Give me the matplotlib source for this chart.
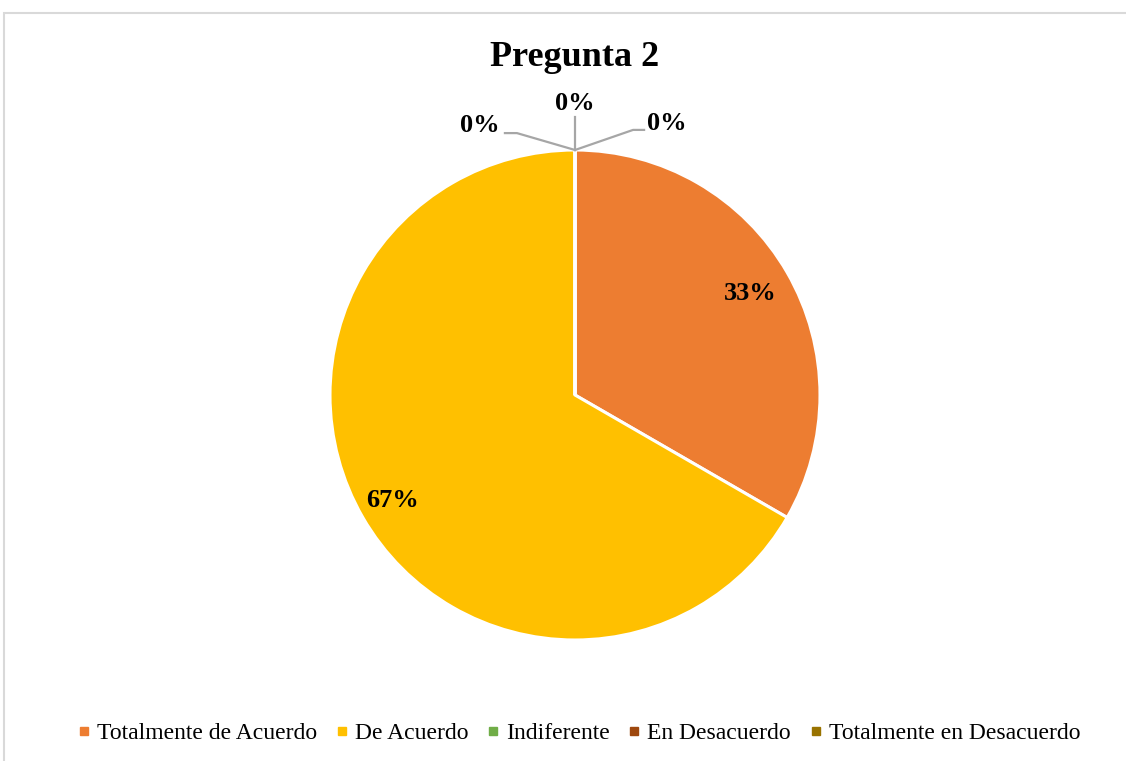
import matplotlib
matplotlib.use("Agg")
import matplotlib.pyplot as plt
import numpy as np
from matplotlib.patches import Rectangle
from matplotlib.lines import Line2D

plt.rcParams['font.family'] = ['Liberation Serif', 'DejaVu Serif']

title = "Pregunta 2"
categories = ["Totalmente de Acuerdo", "De Acuerdo", "Indiferente",
              "En Desacuerdo", "Totalmente en Desacuerdo"]
values = [1, 2, 0, 0, 0]
colors = ["#ED7D31", "#FFC000", "#70AD47", "#9E480E", "#997300"]

W, H = 1126, 761
fig = plt.figure(figsize=(W / 100, H / 100), dpi=100)
ax = fig.add_axes([0, 0, 1, 1])

R = 245.0
cx, cy = 575.0, 395.0

wedges, _ = ax.pie(values, colors=colors, startangle=90, counterclock=False,
                   radius=1.0, wedgeprops=dict(edgecolor="white", linewidth=2.2))

ax.set_aspect('auto')
ax.set_xlim(-cx / R, (W - cx) / R)
ax.set_ylim(-(H - cy) / R, cy / R)
ax.axis('off')

total = sum(values)
pcts = [v / total * 100 for v in values]
labels = ["%d%%" % round(p) for p in pcts]

# labels for non-zero slices (inside end)
lab_r = [0.825, 0.86]
for i, w in enumerate(wedges[:2]):
    ang = np.deg2rad((w.theta1 + w.theta2) / 2)
    ax.text(lab_r[i] * np.cos(ang), lab_r[i] * np.sin(ang), labels[i],
            ha='center', va='center', fontsize=19, fontweight='bold')

# zero slices: leader lines and labels above the pie
lc = "#A6A6A6"
ax.plot([0, -0.237, -0.286], [1.0, 1.069, 1.069], color=lc, lw=1.6)
ax.plot([0, 0], [1.0, 1.135], color=lc, lw=1.6)
ax.plot([0, 0.237, 0.282], [1.0, 1.082, 1.082], color=lc, lw=1.6)
ax.text(-0.388, 1.098, labels[2], ha='center', va='center', fontsize=19, fontweight='bold')
ax.text(0.0, 1.19, labels[3], ha='center', va='center', fontsize=19, fontweight='bold')
ax.text(0.375, 1.11, labels[4], ha='center', va='center', fontsize=19, fontweight='bold')

fig.text(575 / W, 1 - 57 / H, title, ha='center', va='center',
         fontsize=26, fontweight='bold')

# chart border
fig.patches.append(Rectangle((4 / W, -0.05), 1.2, (H - 13) / H + 0.05,
                             transform=fig.transFigure, fill=False,
                             edgecolor="#D9D9D9", linewidth=1.5))

handles = [Line2D([], [], marker='s', linestyle='none', markersize=6,
                  markerfacecolor=c, markeredgecolor=c) for c in colors]
fig.legend(handles, categories, loc='center', bbox_to_anchor=(579 / W, 1 - 733 / H),
           ncol=5, frameon=False, fontsize=17, handlelength=0.5,
           handletextpad=0.3, columnspacing=0.8)

fig.savefig("out.png", dpi=100)
